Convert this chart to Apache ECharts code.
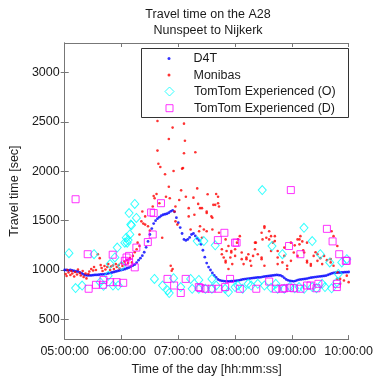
<!DOCTYPE html>
<html lang="en" style="height: 100%">
<head>
<meta charset="utf-8">
<title>Travel time on the A28</title>
</head>
<body style="height: 100%; margin: 0; background: #fff">
<div id="container" style="width: 376px; height: 381px"></div>

<script type="text/javascript" src="https://cdn.jsdelivr.net/npm/echarts/dist/echarts.min.js"></script>

<script type="text/javascript">

// time axis is in minutes after 05:00:00
var xTicks = [0, 60, 120, 180, 240, 300];
var yTicks = [500, 1000, 1500, 2000, 2500, 3000];

// D4T: one value every 2 minutes starting at 05:00
var d4tStep = 2;
var d4tValues = [
    1000, 1000, 995, 1000, 995, 990, 985, 985, 975, 965,
    955, 948, 945, 945, 945, 948, 950, 950, 952, 955,
    955, 958, 960, 965, 970, 975, 980, 985, 990, 995,
    1000, 1005, 1010, 1018, 1025, 1035, 1045, 1055, 1075, 1100,
    1120, 1145, 1180, 1230, 1290, 1360, 1420, 1470, 1500, 1520,
    1535, 1550, 1560, 1565, 1570, 1580, 1595, 1605, 1590, 1530,
    1480, 1430, 1370, 1310, 1300, 1310, 1330, 1360, 1370, 1345,
    1320, 1300, 1260, 1200, 1130, 1070, 1030, 1000, 970, 945,
    925, 905, 895, 890, 888, 885, 885, 885, 887, 888,
    890, 892, 895, 900, 905, 908, 910, 912, 915, 918,
    920, 922, 925, 925, 928, 932, 935, 938, 940, 942,
    945, 948, 950, 948, 945, 935, 920, 905, 895, 890,
    888, 885, 890, 898, 903, 905, 908, 910, 913, 918,
    922, 925, 928, 930, 933, 935, 938, 940, 943, 950,
    958, 965, 970, 972, 973, 975, 975, 976, 978, 978,
    980
];

// Monibas: [minute, seconds]
var monibasPoints = [
    [1, 960], [2, 940], [3, 1000], [4, 975], [6, 950], [7, 990], [8, 965], [10, 935], [11, 980], [13, 955],
    [14, 1005], [16, 970], [17, 945], [19, 990], [20, 930], [22, 965], [23, 915], [25, 960], [26, 985], [28, 1010],
    [30, 995], [31, 1030], [33, 1000], [35, 1160], [37, 1120], [38, 1050], [39, 1020], [40, 990], [42, 1040], [43, 1005],
    [45, 1030], [46, 1060], [48, 1000], [49, 1035], [51, 1045], [52, 1010], [54, 1060], [55, 1030], [57, 1050], [58, 1015],
    [60, 1070], [61, 1040], [63, 1085], [64, 1055], [66, 1100], [67, 1070], [69, 1120], [71, 1077], [72, 1143], [74, 1180],
    [76, 1210], [77, 1277], [79, 1243], [79, 1360],
    [81, 1493], [82, 1593], [83, 1470], [85, 1543], [85, 1460], [88, 1443], [90, 1400], [93, 1643], [94, 1750], [95, 1727],
    [97, 1770], [98, 2210], [98, 2510], [99, 2077], [100, 1677], [101, 2043], [103, 1327], [106, 1970], [107, 1743], [110, 1843],
    [110, 2327], [111, 1727], [112, 1043], [113, 993], [114, 1010], [114, 2443], [115, 2003], [116, 1593], [117, 1643], [117, 1493],
    [119, 1460], [121, 1710], [123, 1807], [124, 2027], [125, 2033], [126, 2483], [126, 2183], [127, 2310], [128, 1743], [131, 1627],
    [131, 1543], [133, 1410], [136, 1733], [137, 1560], [138, 2193], [140, 1827], [141, 1670], [142, 1393], [143, 1627], [143, 1443],
    [145, 1327], [145, 1627], [147, 1410], [150, 1593], [150, 1577], [150, 1393], [151, 1767], [155, 1543], [156, 1530], [156, 1410],
    [157, 1660], [159, 1660], [160, 1770], [162, 1743], [162, 1677], [163, 1643], [163, 1377],
    [166, 1210], [166, 1160], [168, 1127], [170, 1077], [170, 1093], [170, 1310], [171, 1193], [173, 1243], [173, 1010], [175, 1127],
    [176, 1193], [176, 1177], [177, 1060], [180, 1210], [180, 1143], [182, 1277], [183, 1310], [185, 1343], [187, 1110], [187, 1177],
    [189, 1060], [192, 1127], [192, 1110], [194, 1160], [196, 1093], [197, 1043], [199, 1143], [201, 1210], [201, 1277], [202, 1277],
    [204, 1160], [208, 1110], [208, 1377], [208, 1127], [209, 1310], [211, 1427], [211, 1443], [211, 1043], [213, 1327], [216, 1310],
    [216, 1393], [218, 1343], [218, 1193], [220, 1277], [222, 1343], [222, 1293], [225, 1127], [225, 1193], [225, 1060], [230, 1077],
    [232, 1143], [232, 1227], [235, 1043], [235, 1010], [239, 1277], [239, 1093], [242, 1177], [243, 1250], [246, 1310], [246, 1143],
    [248, 1260], [248, 1310], [249, 1343], [251, 1290], [252, 1200], [253, 1177], [256, 1077], [256, 1277], [256, 1093], [260, 1060],
    [260, 1043], [263, 1143], [265, 1180], [267, 1093], [267, 1160], [270, 1120], [272, 1060], [274, 1143], [277, 1100], [281, 1077],
    [281, 1110], [282, 1393], [284, 1043], [284, 1343], [288, 1243], [288, 910], [288, 977], [291, 860], [291, 910], [295, 893],
    [298, 943], [300, 877]
];

// TomTom Experienced (O): [minute, seconds]
var tomtomOPoints = [
    [4.5, 1170], [11.5, 817], [18.4, 843], [31, 1160], [37.5, 877], [41, 840], [46, 943], [48, 1060], [51, 843], [53, 1127],
    [55.5, 1227], [56.5, 843], [60, 1043], [63.5, 1277], [65, 1327], [66, 1277], [67, 1303], [68, 1577], [68.8, 1360], [69.8, 1460],
    [70.5, 1453], [74, 1670], [75.7, 1527], [94.8, 910], [103.4, 843], [108.6, 793], [110.4, 767], [115, 917], [122.6, 827], [133, 910],
    [134.7, 810], [140, 1293], [141.7, 900], [141.7, 810], [147, 1293], [148.6, 810], [155.5, 910], [155.5, 810], [159, 1250], [160, 843],
    [169.5, 810], [173, 777], [180, 827], [183, 843], [188, 810], [193.8, 860], [197, 843], [204, 860], [208.7, 1810], [211, 843],
    [218, 820], [219, 1243], [223, 860], [225, 810], [230, 1160], [232, 810], [238, 830], [243, 815], [247.6, 827], [252.8, 1427],
    [253, 810], [261.5, 1293], [261.5, 827], [266, 815], [270, 1160], [272, 860], [275, 827], [280, 1077], [282, 815], [287.5, 877],
    [289, 960], [292.7, 1077], [298, 1110]
];

// TomTom Experienced (D): [minute, seconds]
var tomtomDPoints = [
    [11.5, 1717], [24.3, 1160], [25.3, 810], [33, 850], [40.3, 850], [41, 900], [48, 877], [50.7, 1155], [54.9, 877], [61.8, 870],
    [63.5, 1093], [65.3, 1127], [68, 1143], [68, 1077], [74, 1027], [75.7, 1227], [87.8, 1283], [91.3, 1583], [93, 1360], [94, 1577],
    [101.7, 1677], [108.6, 910], [115.6, 843], [122.6, 767], [127.8, 910], [141.7, 827], [143.4, 817], [148.6, 810], [155, 810], [161.8, 1303],
    [162.5, 810], [168.7, 1377], [169.5, 827], [174.7, 910], [180, 1277], [181.6, 1277], [185, 810], [202.4, 810], [216, 883], [223, 810],
    [230, 810], [232, 815], [237, 1243], [238, 820], [238.9, 1810], [242, 815], [249, 1160], [249, 810], [256, 843], [259.7, 843],
    [266, 815], [268, 860], [277, 1417], [283, 1290], [287.5, 827], [287.5, 860], [290, 1160], [297, 1093], [298, 1093]
];

var d4tPoints = d4tValues.map(function (v, i) {
    return [i * d4tStep, v];
});

function pad(n) {
    return (n < 10 ? '0' : '') + n;
}

function timeLabel(m) {
    var h = 5 + Math.floor(m / 60);
    return pad(h) + ':' + pad(m % 60) + ':00';
}

var dom = document.getElementById('container');
var myChart = echarts.init(dom, null, { renderer: 'canvas' });

var fontFamily = 'Liberation Sans, Arial, sans-serif';
var textColor = '#1a1a1a';
var frameColor = '#777';

var tickStyle = { show: true, inside: true, length: 4, lineStyle: { color: frameColor } };

// one legend per row so each marker keeps its own size
var iconCenter = 169;
var textStart = 193.5;

function legendRow(name, top, size) {
    var left = iconCenter - size / 2;
    return {
        data: [name],
        left: left,
        top: top,
        orient: 'vertical',
        itemWidth: size,
        itemHeight: size,
        itemGap: 0,
        padding: 0,
        selectedMode: false,
        itemStyle: { borderWidth: 1 },
        textStyle: {
            fontFamily: fontFamily,
            fontSize: 12.5,
            color: textColor,
            padding: [0, 0, 0, textStart - (left + size + 5)]
        }
    };
}

var option = {
    animation: false,
    backgroundColor: '#fff',
    title: {
        text: 'Travel time on the A28\nNunspeet to Nijkerk',
        left: 208,
        top: 7,
        textAlign: 'center',
        padding: 0,
        textStyle: {
            fontFamily: fontFamily,
            fontSize: 12.5,
            fontWeight: 'normal',
            color: textColor,
            lineHeight: 16
        }
    },
    legend: [
        legendRow('D4T', 52, 3),
        legendRow('Monibas', 68.6, 3),
        legendRow('TomTom Experienced (O)', 85, 9),
        legendRow('TomTom Experienced (D)', 101.7, 7)
    ],
    graphic: [{
        type: 'rect',
        left: 141,
        top: 48,
        z: -1,
        shape: { width: 207, height: 69 },
        style: { fill: '#fff', stroke: '#333', lineWidth: 1 }
    }],
    grid: {
        left: 64,
        right: 24,
        top: 43,
        bottom: 36
    },
    xAxis: [{
        type: 'value',
        min: 0,
        max: 300,
        interval: 60,
        position: 'bottom',
        name: 'Time of the day [hh:mm:ss]',
        nameLocation: 'middle',
        nameGap: 21,
        nameTextStyle: { fontFamily: fontFamily, fontSize: 12.5, color: textColor },
        axisLine: { show: true, lineStyle: { color: frameColor } },
        axisTick: tickStyle,
        axisLabel: {
            margin: 6,
            fontFamily: fontFamily,
            fontSize: 12.5,
            color: textColor,
            formatter: timeLabel
        },
        splitLine: { show: false }
    }, {
        type: 'value',
        min: 0,
        max: 300,
        interval: 60,
        position: 'top',
        axisLine: { show: true, lineStyle: { color: frameColor } },
        axisTick: tickStyle,
        axisLabel: { show: false },
        splitLine: { show: false }
    }],
    yAxis: [{
        type: 'value',
        min: 300,
        max: 3300,
        position: 'left',
        name: 'Travel time [sec]',
        nameLocation: 'middle',
        nameGap: 40,
        nameRotate: 90,
        nameTextStyle: { fontFamily: fontFamily, fontSize: 12.5, color: textColor },
        axisLine: { show: true, lineStyle: { color: frameColor } },
        axisTick: { show: true, inside: true, length: 4, lineStyle: { color: frameColor }, customValues: yTicks },
        axisLabel: {
            margin: 5,
            fontFamily: fontFamily,
            fontSize: 12.5,
            color: textColor,
            customValues: yTicks,
            formatter: function (v) { return String(v); }
        },
        splitLine: { show: false }
    }, {
        type: 'value',
        min: 300,
        max: 3300,
        position: 'right',
        axisLine: { show: true, lineStyle: { color: frameColor } },
        axisTick: { show: true, inside: true, length: 4, lineStyle: { color: frameColor }, customValues: yTicks },
        axisLabel: { show: false },
        splitLine: { show: false }
    }],
    series: [{
        name: 'D4T',
        type: 'scatter',
        data: d4tPoints,
        symbol: 'circle',
        symbolSize: 2.8,
        itemStyle: { color: '#0000ff' }
    }, {
        name: 'Monibas',
        type: 'scatter',
        data: monibasPoints,
        symbol: 'circle',
        symbolSize: 2.6,
        itemStyle: { color: '#ff0000' }
    }, {
        name: 'TomTom Experienced (O)',
        type: 'scatter',
        data: tomtomOPoints,
        symbol: 'diamond',
        symbolSize: [8, 9],
        itemStyle: { color: 'rgba(0,0,0,0)', borderColor: '#00ffff', borderWidth: 1 }
    }, {
        name: 'TomTom Experienced (D)',
        type: 'scatter',
        data: tomtomDPoints,
        symbol: 'rect',
        symbolSize: 7,
        itemStyle: { color: 'rgba(0,0,0,0)', borderColor: '#ff00ff', borderWidth: 1 }
    }]
};

myChart.setOption(option);

window.addEventListener('resize', myChart.resize);
</script>
</body>
</html>
